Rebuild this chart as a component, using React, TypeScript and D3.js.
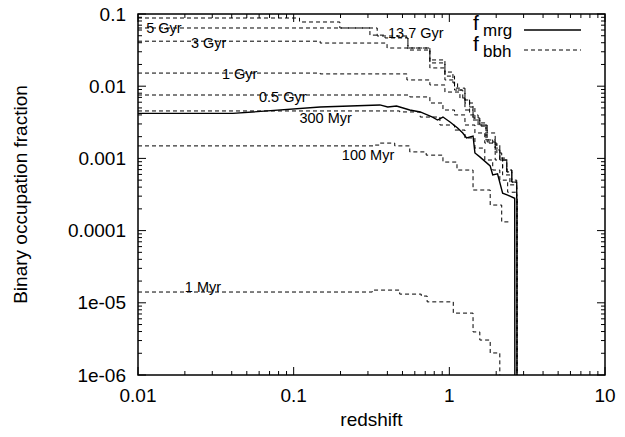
import React from "react";
import * as d3 from "d3";

// axes
const xTicks = [0.01, 0.1, 1, 10];
const xTickLabels = ["0.01", "0.1", "1", "10"];
const yTicks = [1e-6, 1e-5, 1e-4, 1e-3, 1e-2, 0.1];
const yTickLabels = ["1e-06", "1e-05", "0.0001", "0.001", "0.01", "0.1"];

// f_bbh for different ages, [redshift, fraction]
const bbh13_7Gyr: [number, number][] = [
  [0.01, 0.088], [0.0705, 0.088], [0.109, 0.0775], [0.198, 0.064], [0.309, 0.051],
  [0.386, 0.0466], [0.542, 0.0338], [0.75, 0.0231], [0.937, 0.0157], [1.055, 0.0111],
  [1.13, 0.00885], [1.26, 0.00644], [1.35, 0.00515], [1.46, 0.0034], [1.57, 0.0031],
  [1.72, 0.0018], [1.9, 0.00163], [2.02, 0.00119], [2.17, 0.00105], [2.2, 0.000736],
  [2.34, 0.00069], [2.52, 0.0005], [2.71, 0.00028], [2.72, 1e-8],
];
const bbh5Gyr: [number, number][] = [
  [0.01, 0.064], [0.171, 0.064], [0.344, 0.0496], [0.542, 0.0317], [0.75, 0.021],
  [0.937, 0.0138], [1.08, 0.0094], [1.26, 0.00585], [1.42, 0.0034], [1.57, 0.0028],
  [1.75, 0.00169], [1.97, 0.00139], [2.11, 0.00095], [2.34, 0.00065], [2.52, 0.00047],
  [2.71, 0.00028], [2.72, 1e-8],
];
const bbh3Gyr: [number, number][] = [
  [0.01, 0.042], [0.148, 0.0396], [0.398, 0.0338], [0.75, 0.0179], [0.937, 0.0122],
  [1.08, 0.00885], [1.22, 0.00644], [1.35, 0.004], [1.53, 0.0029], [1.72, 0.0018],
  [1.97, 0.00131], [2.11, 0.00095], [2.34, 0.00065], [2.52, 0.00047], [2.71, 0.00028],
  [2.72, 1e-8],
];
const bbh1Gyr: [number, number][] = [
  [0.01, 0.0152], [0.148, 0.0148], [0.534, 0.0122], [0.75, 0.0104], [0.937, 0.0083],
  [1.17, 0.00687], [1.26, 0.00468], [1.42, 0.00363], [1.57, 0.0029], [1.75, 0.00225],
  [1.97, 0.00154], [2.11, 0.00101], [2.34, 0.00069], [2.52, 0.00047], [2.71, 0.00028],
  [2.72, 1e-8],
];
const bbh05Gyr: [number, number][] = [
  [0.01, 0.00755], [0.416, 0.00755], [0.557, 0.0071], [0.75, 0.00585], [0.91, 0.00468],
  [1.08, 0.004], [1.26, 0.0029], [1.46, 0.00225], [1.69, 0.00163], [1.97, 0.00095],
  [2.2, 0.00059], [2.45, 0.00043], [2.71, 0.00028], [2.72, 1e-8],
];
const bbh300Myr: [number, number][] = [
  [0.01, 0.00454], [0.48, 0.0044], [0.65, 0.00374], [0.87, 0.0029], [1.08, 0.00247],
  [1.26, 0.00192], [1.46, 0.00139], [1.69, 0.00095], [1.9, 0.00069], [2.11, 0.0005],
  [2.37, 0.00034], [2.71, 0.00028], [2.72, 1e-8],
];
const bbh100Myr: [number, number][] = [
  [0.01, 0.00149], [0.333, 0.00153], [0.358, 0.00163], [0.446, 0.00149], [0.557, 0.00123],
  [0.71, 0.00111], [0.91, 0.00089], [1.12, 0.00069], [1.42, 0.00065], [1.42, 0.000365],
  [1.83, 0.000311], [1.83, 0.000226], [2.17, 0.000226], [2.17, 0.000132], [2.5, 0.000132],
];
const bbh1Myr: [number, number][] = [
  [0.01, 1.41e-5], [0.296, 1.41e-5], [0.32, 1.5e-5], [0.48, 1.32e-5], [0.66, 1.24e-5],
  [0.72, 1.03e-5], [0.96, 1.03e-5], [1.06, 7.2e-6], [1.42, 6.2e-6], [1.42, 3.95e-6],
  [1.57, 3.05e-6], [1.83, 3.05e-6], [1.83, 2.02e-6], [2.11, 2.02e-6], [2.11, 1e-8],
];
// f_mrg
const mrg: [number, number][] = [
  [0.01, 0.0042], [0.0407, 0.0042], [0.148, 0.00515], [0.358, 0.0055], [0.402, 0.00515],
  [0.458, 0.00532], [0.557, 0.00468], [0.65, 0.0044], [0.78, 0.00374], [0.84, 0.0034],
  [0.91, 0.00374], [1.01, 0.00319], [1.13, 0.00264], [1.22, 0.00225], [1.29, 0.00192],
  [1.42, 0.00204], [1.46, 0.00119], [1.57, 0.00105], [1.83, 0.000785], [1.9, 0.00059],
  [2.04, 0.00061], [2.2, 0.00033], [2.37, 0.00031], [2.63, 0.00028], [2.64, 1e-8],
];

const bbhCurves = [bbh13_7Gyr, bbh5Gyr, bbh3Gyr, bbh1Gyr, bbh05Gyr, bbh300Myr, bbh100Myr, bbh1Myr];

const ageLabels = [
  { text: "13.7 Gyr", z: 0.404, f: 0.0546 },
  { text: "5 Gyr", z: 0.0113, f: 0.064 },
  { text: "3 Gyr", z: 0.0219, f: 0.0397 },
  { text: "1 Gyr", z: 0.0346, f: 0.0148 },
  { text: "0.5 Gyr", z: 0.0599, f: 0.0071 },
  { text: "300 Myr", z: 0.109, f: 0.00363 },
  { text: "100 Myr", z: 0.204, f: 0.00111 },
  { text: "1 Myr", z: 0.02, f: 1.66e-5 },
];

const W = 625;
const H = 437;
const margin = { top: 14, right: 20, bottom: 62, left: 138 };
const font = "'Liberation Sans', Arial, Helvetica, sans-serif";

export default function App() {
  const x = d3.scaleLog().domain([0.01, 10]).range([margin.left, W - margin.right]);
  const y = d3.scaleLog().domain([1e-6, 0.1]).range([H - margin.bottom, margin.top]);
  const [x0, x1] = x.range();
  const [y0, y1] = y.range();

  const isMajor = (t: number) => Math.abs(Math.log10(t) - Math.round(Math.log10(t))) < 1e-6;
  const xAll = x.ticks();
  const yAll = y.ticks();

  const stepLine = d3
    .line<[number, number]>()
    .x((d) => x(d[0]))
    .y((d) => y(d[1]))
    .curve(d3.curveStepAfter);
  const line = d3
    .line<[number, number]>()
    .x((d) => x(d[0]))
    .y((d) => y(d[1]));

  const tickLines: JSX.Element[] = [];
  xAll.forEach((t, i) => {
    const len = isMajor(t) ? 8 : 4;
    tickLines.push(<line key={"xb" + i} x1={x(t)} x2={x(t)} y1={y0} y2={y0 - len} />);
    tickLines.push(<line key={"xt" + i} x1={x(t)} x2={x(t)} y1={y1} y2={y1 + len} />);
  });
  yAll.forEach((t, i) => {
    const len = isMajor(t) ? 8 : 4;
    tickLines.push(<line key={"yl" + i} x1={x0} x2={x0 + len} y1={y(t)} y2={y(t)} />);
    tickLines.push(<line key={"yr" + i} x1={x1} x2={x1 - len} y1={y(t)} y2={y(t)} />);
  });

  return (
    <svg width={W} height={H} style={{ position: "absolute", left: 0, top: 0, background: "#fff" }} fontFamily={font}>
      <defs>
        <clipPath id="plot">
          <rect x={x0} y={y1} width={x1 - x0} height={y0 - y1} />
        </clipPath>
      </defs>

      <g clipPath="url(#plot)" fill="none">
        {bbhCurves.map((c, i) => (
          <path key={i} d={stepLine(c) || ""} stroke="#000" strokeWidth={1} strokeDasharray="4,3" />
        ))}
        <path d={line(mrg) || ""} stroke="#000" strokeWidth={1.4} />
      </g>

      {ageLabels.map((l) => (
        <text key={l.text} x={x(l.z)} y={y(l.f)} dominantBaseline="central" fontSize={14.5} fill="#000">
          {l.text}
        </text>
      ))}

      <g stroke="#000" strokeWidth={1}>{tickLines}</g>
      <rect x={x0} y={y1} width={x1 - x0} height={y0 - y1} fill="none" stroke="#000" strokeWidth={1.5} />

      {xTicks.map((t, i) => (
        <text key={"xl" + i} x={x(t)} y={402} textAnchor="middle" fontSize={19}>
          {xTickLabels[i]}
        </text>
      ))}
      {yTicks.map((t, i) => (
        <text key={"yl" + i} x={126} y={y(t)} textAnchor="end" dominantBaseline="central" fontSize={19}>
          {yTickLabels[i]}
        </text>
      ))}

      <text x={(x0 + x1) / 2} y={426} textAnchor="middle" fontSize={19}>
        redshift
      </text>
      <text transform={`translate(27,${(y0 + y1) / 2}) rotate(-90)`} textAnchor="middle" fontSize={19}>
        Binary occupation fraction
      </text>

      {/* key */}
      <text x={473} y={30} fontSize={21}>
        f<tspan x={483} dy={6} fontSize={17}>mrg</tspan>
      </text>
      <line x1={524} x2={581} y1={30} y2={30} stroke="#000" strokeWidth={1.4} />
      <text x={473} y={51} fontSize={21}>
        f<tspan x={483} dy={6} fontSize={17}>bbh</tspan>
      </text>
      <line x1={524} x2={581} y1={50} y2={50} stroke="#000" strokeWidth={1} strokeDasharray="4,3" />
    </svg>
  );
}
